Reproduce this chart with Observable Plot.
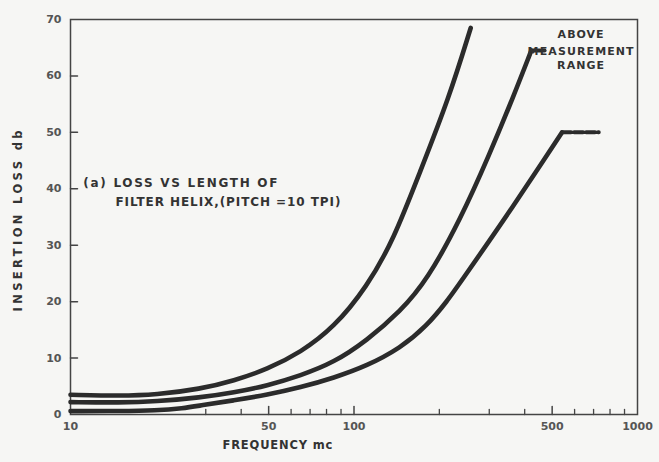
<!DOCTYPE html>
<html><head><meta charset="utf-8">
<script src="https://cdn.jsdelivr.net/npm/d3@7"></script>
<script src="https://cdn.jsdelivr.net/npm/@observablehq/plot@0.6"></script>
<style>
html,body{margin:0;padding:0;background:#f6f6f4;}
</style></head><body><div id="chart"></div>
<script>
// Curve A (steepest)
const freqA = [10, 15, 20, 28.7, 37.7, 49.4, 64.8, 84.9, 111, 138, 170, 216, 258];
const lossA = [3.5, 3.3, 3.5, 4.5, 6.0, 8.0, 11.0, 15.4, 22.6, 31, 42.7, 56, 68.5];
// Curve B
const freqB = [10, 15, 20, 28.7, 37.7, 49.4, 64.8, 84.9, 111, 146, 181, 237, 300, 366, 422];
const lossB = [2.2, 2.1, 2.3, 3.0, 3.9, 5.1, 6.9, 9.2, 13.1, 18.3, 23.8, 34.5, 46, 56.5, 64.5];
const dashB_f = [422, 470];
const dashB_v = [64.5, 64.5];
// Curve C
const freqC = [10, 15, 20, 25, 28.7, 37.7, 49.4, 64.8, 84.9, 111, 146, 180, 214, 238, 366, 542];
const lossC = [0.6, 0.6, 0.7, 1.1, 1.6, 2.5, 3.5, 4.8, 6.5, 8.6, 11.8, 15.6, 20.2, 23.5, 37, 50];
const dashC_f = [542, 730];
const dashC_v = [50, 50];

const xLabelTicks = [10, 50, 100, 500, 1000];
const xMajorTicks = [50, 100, 500];
const xMinorTicks = [30, 40, 60, 70, 80, 90, 200, 300, 400, 600, 700, 800, 900];
const yTicks = [0, 10, 20, 30, 40, 50, 60, 70];
const yInnerTicks = [10, 20, 30, 40, 50, 60];

const annotLines = ["(a) LOSS VS LENGTH OF", "FILTER HELIX,(PITCH =10 TPI)"];
const annotX = [11.1, 14.4];
const annotY = [41, 37.7];
const rangeLines = ["ABOVE", "MEASUREMENT", "RANGE"];
const rangeX = 630;
const rangeY = [67.3, 64.3, 61.8];
const xTitle = "FREQUENCY mc", xTitleAt = 53.7;
const yTitle = "INSERTION LOSS db", yTitleAt = 34.3;

// text widths (px) of the hand-lettered labels
const fitWidths = new Map([
  [annotLines[0], 194], [annotLines[1], 225],
  ["ABOVE", 46], ["MEASUREMENT", 106], ["RANGE", 47],
  [xTitle, 110], [yTitle, 181]
]);

const toRows = (fs, vs) => fs.map((f, i) => ({f, v: vs[i]}));
const tickShape = {draw(ctx, l) { ctx.moveTo(0, 0); ctx.lineTo(0, -l); }};
const ink = "#2b2b2b";

const chart = Plot.plot({
  width: 659, height: 462,
  marginLeft: 70, marginRight: 22, marginTop: 19, marginBottom: 48,
  style: {background: "transparent", fontFamily: "DejaVu Sans", fontWeight: "bold"},
  x: {type: "log", domain: [10, 1000]},
  y: {domain: [0, 70]},
  marks: [
    Plot.axisX({ticks: xLabelTicks, tickSize: 0, tickPadding: 8, tickFormat: d => String(d), fontSize: 11, fill: "#555", label: null}),
    Plot.axisY({ticks: yTicks, tickSize: 0, tickPadding: 9, fontSize: 11, fill: "#555", label: null}),
    Plot.vector(xMajorTicks, {x: d => d, y: 0, length: 8, anchor: "start", shape: tickShape, stroke: "#444", strokeWidth: 1.5}),
    Plot.vector(xMinorTicks, {x: d => d, y: 0, length: 5, anchor: "start", shape: tickShape, stroke: "#444", strokeWidth: 1.3}),
    Plot.vector(yInnerTicks, {x: 10, y: d => d, length: 7, rotate: 90, anchor: "start", shape: tickShape, stroke: "#444", strokeWidth: 1.5}),
    Plot.frame({stroke: "#444", strokeWidth: 1.5}),
    Plot.line(toRows(freqA, lossA), {x: "f", y: "v", curve: "basis", stroke: ink, strokeWidth: 4.6}),
    Plot.line(toRows(freqB, lossB), {x: "f", y: "v", curve: "basis", stroke: ink, strokeWidth: 4.6}),
    Plot.line(toRows(freqC, lossC), {x: "f", y: "v", curve: "basis", stroke: ink, strokeWidth: 4.6}),
    Plot.line(toRows(dashB_f, dashB_v), {x: "f", y: "v", stroke: ink, strokeWidth: 4, strokeDasharray: "9,3"}),
    Plot.line(toRows(dashC_f, dashC_v), {x: "f", y: "v", stroke: ink, strokeWidth: 4, strokeDasharray: "9,3"}),
    Plot.text(annotLines.map((t, i) => ({t, x: annotX[i], y: annotY[i]})), {x: "x", y: "y", text: "t", textAnchor: "start", fontSize: 12, fill: "#333"}),
    Plot.text(rangeLines.map((t, i) => ({t, y: rangeY[i]})), {x: () => rangeX, y: "y", text: "t", textAnchor: "middle", fontSize: 11, fill: "#333"}),
    Plot.text([xTitle], {x: () => xTitleAt, frameAnchor: "bottom", dy: 34, text: d => d, textAnchor: "middle", fontSize: 11.5, fill: "#333"}),
    Plot.text([yTitle], {y: () => yTitleAt, frameAnchor: "left", dx: -52, rotate: -90, text: d => d, textAnchor: "middle", fontSize: 11.5, fill: "#333"})
  ]
});
d3.select(chart).selectAll("text").each(function() {
  const w = fitWidths.get(this.textContent);
  if (w) { this.setAttribute("textLength", w); this.setAttribute("lengthAdjust", "spacing"); }
});
document.getElementById("chart").append(chart);
</script></body></html>
